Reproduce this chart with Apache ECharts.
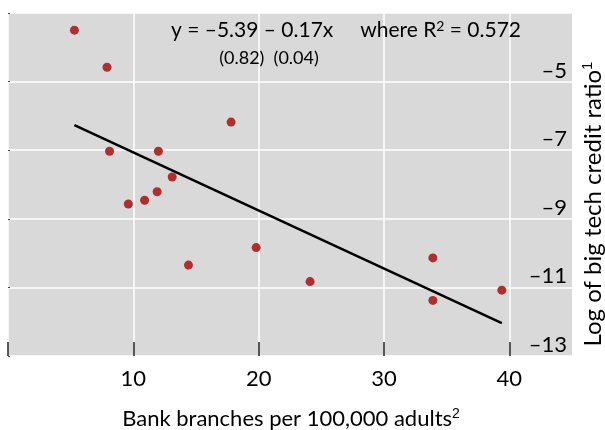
<!DOCTYPE html>
<html>
<head>
<meta charset="utf-8">
<script src="https://cdn.jsdelivr.net/npm/echarts@6/dist/echarts.min.js"></script>
<style>
    html, body { margin: 0; padding: 0; background: #fff; }
    #chart { width: 605px; height: 430px; }
</style>
</head>
<body>
<div id="chart"></div>
<script>
// bank branches per 100,000 adults (x) and log big tech credit ratio (y)
const branches = [5.3, 7.9, 8.1, 9.6, 10.9, 11.9, 12.0, 13.1, 14.4, 17.8, 19.8, 24.1, 33.9, 33.9, 39.4];
const creditRatio = [-3.50, -4.58, -7.03, -8.57, -8.46, -8.21, -7.03, -7.78, -10.35, -6.18, -9.84, -10.83, -10.14, -11.38, -11.08];

// fitted line end points
const fitX = [5.3, 39.4];
const fitY = [-6.27, -12.04];

// tick labels
const xTicks = [10, 20, 30, 40];
const yTicks = [-5, -7, -9, -11, -13];

const fontFamily = 'Lato, "Noto Sans", sans-serif';

const chart = echarts.init(document.getElementById('chart'));

const option = {
    animation: false,
    textStyle: { fontFamily: fontFamily },
    grid: {
        left: 8,
        right: 33,
        top: 13,
        bottom: 74,
        show: true,
        backgroundColor: '#d9d9d9',
        borderWidth: 0
    },
    title: [{
        text: 'y = –5.39 – 0.17x     where R{sup|2} = 0.572',
        left: 341,
        top: 14,
        textAlign: 'center',
        textStyle: {
            fontFamily: fontFamily, fontSize: 21, fontWeight: 'normal', color: '#000',
            rich: { sup: { fontSize: 14, padding: [0, 0, 9, 0], color: '#000' } }
        }
    }, {
        text: '(0.82)  (0.04)',
        left: 264,
        top: 44,
        textAlign: 'center',
        textStyle: { fontFamily: fontFamily, fontSize: 18, fontWeight: 'normal', color: '#000' }
    }],
    graphic: [{
        type: 'text',
        x: 291,
        y: 419,
        style: {
            text: 'Bank branches per 100,000 adults{sup|2}',
            font: '22px ' + fontFamily,
            fill: '#000',
            align: 'center',
            verticalAlign: 'middle',
            rich: { sup: { fontSize: 14, padding: [0, 0, 9, 0], fill: '#000' } }
        }
    }, {
        type: 'text',
        x: 593,
        y: 204,
        rotation: Math.PI / 2,
        style: {
            text: 'Log of big tech credit ratio{sup|1}',
            font: '24px ' + fontFamily,
            fill: '#000',
            align: 'center',
            verticalAlign: 'middle',
            rich: { sup: { fontSize: 15, padding: [0, 0, 10, 0], fill: '#000' } }
        }
    }],
    xAxis: {
        type: 'value',
        min: 0,
        max: 45,
        interval: 10,
        axisLine: { show: false },
        axisTick: {
            show: true,
            inside: true,
            length: 14,
            customValues: [0].concat(xTicks),
            lineStyle: { color: '#222', width: 1.5 }
        },
        axisLabel: {
            customValues: xTicks,
            margin: 12,
            fontSize: 22,
            color: '#000',
            fontFamily: fontFamily
        },
        splitLine: { lineStyle: { color: '#ffffff', width: 1.5 } }
    },
    yAxis: {
        type: 'value',
        position: 'right',
        min: -13,
        max: -3,
        interval: 2,
        axisLine: { show: false },
        axisTick: {
            show: true,
            length: 2,
            lineStyle: { color: '#444', width: 1 }
        },
        axisLabel: {
            inside: true,
            customValues: yTicks,
            margin: 5,
            verticalAlign: 'bottom',
            fontSize: 22,
            color: '#000',
            fontFamily: fontFamily,
            formatter: v => String(v).replace('-', '–')
        },
        splitLine: { lineStyle: { color: '#ffffff', width: 1.5 } }
    },
    series: [{
        type: 'line',
        data: fitX.map((x, i) => [x, fitY[i]]),
        showSymbol: false,
        lineStyle: { color: '#000', width: 2.5 },
        z: 2
    }, {
        type: 'scatter',
        data: branches.map((x, i) => [x, creditRatio[i]]),
        symbolSize: 9,
        itemStyle: { color: '#b02e2e', opacity: 1 },
        z: 3
    }]
};

chart.setOption(option);
</script>
</body>
</html>
